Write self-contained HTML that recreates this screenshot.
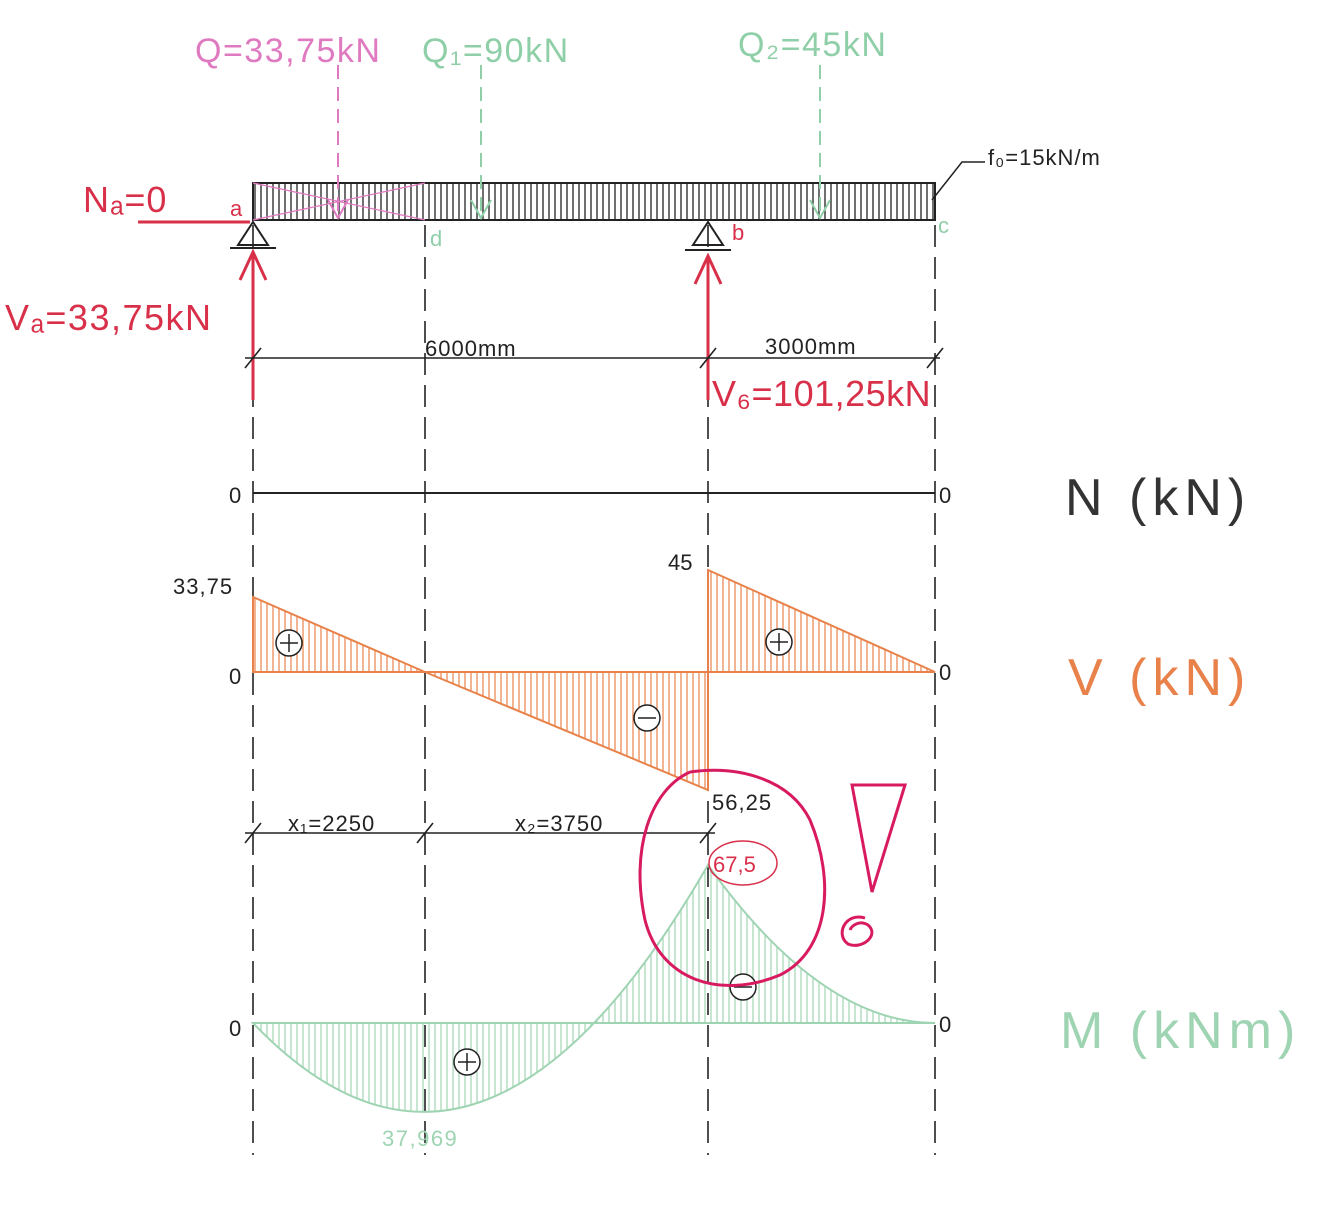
<!DOCTYPE html>
<html><head><meta charset="utf-8"><style>
body{margin:0;background:#fff}
svg{display:block}
text{font-family:"Liberation Sans",sans-serif}
</style></head><body>
<svg width="1341" height="1206" viewBox="0 0 1341 1206" xmlns="http://www.w3.org/2000/svg">
<defs>
<pattern id="hb" width="6" height="10" patternUnits="userSpaceOnUse"><line x1="3" y1="0" x2="3" y2="10" stroke="#222" stroke-width="1.3"/></pattern>
<pattern id="ho" width="6" height="10" patternUnits="userSpaceOnUse"><line x1="3" y1="0" x2="3" y2="10" stroke="#e8824a" stroke-width="1.2"/></pattern>
<pattern id="hg" width="6" height="10" patternUnits="userSpaceOnUse"><line x1="3" y1="0" x2="3" y2="10" stroke="#9fd4b3" stroke-width="1.2"/></pattern>
</defs>
<g stroke="#222" stroke-width="1.6" stroke-dasharray="22,10">
<line x1="253" y1="225" x2="253" y2="1155"/>
<line x1="425" y1="225" x2="425" y2="1155"/>
<line x1="708" y1="225" x2="708" y2="1155"/>
<line x1="935" y1="225" x2="935" y2="1155"/>
</g>
<rect x="253" y="183" width="682" height="37" fill="url(#hb)" stroke="#222" stroke-width="2"/>
<g stroke="#e07ac0" stroke-width="1.3" fill="none"><line x1="253" y1="183" x2="425" y2="220"/><line x1="253" y1="220" x2="425" y2="183"/></g>
<g stroke-width="2" stroke-dasharray="14,8" fill="none">
<line x1="338" y1="65" x2="338" y2="215" stroke="#e07ac0"/>
<line x1="481" y1="65" x2="481" y2="215" stroke="#8fcfa8"/>
<line x1="820" y1="65" x2="820" y2="215" stroke="#8fcfa8"/>
</g>
<g stroke-width="2" fill="none">
<path d="M328,200 L338,218 L348,200" stroke="#e07ac0"/>
<path d="M471,200 L481,218 L491,200" stroke="#8fcfa8"/>
<path d="M810,200 L820,218 L830,200" stroke="#8fcfa8"/>
</g>
<text x="195" y="62" font-size="34" fill="#e07ac0" letter-spacing="1.5">Q=33,75kN</text>
<text x="422" y="62" font-size="34" fill="#8fcfa8" letter-spacing="1.5">Q₁=90kN</text>
<text x="738" y="56" font-size="34" fill="#8fcfa8" letter-spacing="1.5">Q₂=45kN</text>
<path d="M932,200 L962,162 L985,162" stroke="#222" stroke-width="1.5" fill="none"/>
<text x="988" y="165" font-size="22" fill="#222" letter-spacing="1">f₀=15kN/m</text>
<g stroke="#222" stroke-width="2" fill="none">
<path d="M253,222 L238,245 L268,245 Z"/><line x1="230" y1="248" x2="276" y2="248"/>
<path d="M708,222 L693,245 L723,245 Z"/><line x1="685" y1="250" x2="731" y2="250"/>
</g>
<text x="230" y="216" font-size="22" fill="#d9304a">a</text>
<text x="732" y="240" font-size="22" fill="#d9304a">b</text>
<text x="430" y="246" font-size="22" fill="#8fcfa8">d</text>
<text x="938" y="233" font-size="22" fill="#8fcfa8">c</text>
<g stroke="#d9304a" stroke-width="3" fill="none">
<line x1="138" y1="222" x2="250" y2="222"/>
<line x1="253" y1="255" x2="253" y2="400"/><path d="M240,280 L253,252 L266,280"/>
<line x1="708" y1="258" x2="708" y2="400"/><path d="M695,284 L708,256 L721,284"/>
</g>
<text x="83" y="212" font-size="36" fill="#d9304a" letter-spacing="1">Nₐ=0</text>
<text x="5" y="330" font-size="36" fill="#d9304a" letter-spacing="1.5">Vₐ=33,75kN</text>
<text x="712" y="406" font-size="36" fill="#d9304a" letter-spacing="0.5">V₆=101,25kN</text>
<g stroke="#222" stroke-width="1.6"><line x1="245" y1="358" x2="940" y2="358"/>
<line x1="245" y1="368" x2="261" y2="348"/><line x1="700" y1="368" x2="716" y2="348"/><line x1="927" y1="368" x2="943" y2="348"/>
<line x1="245" y1="833" x2="715" y2="833"/>
<line x1="245" y1="843" x2="261" y2="823"/><line x1="417" y1="843" x2="433" y2="823"/><line x1="700" y1="843" x2="716" y2="823"/></g>
<text x="425" y="356" font-size="22" fill="#222" letter-spacing="1">6000mm</text>
<text x="765" y="354" font-size="22" fill="#222" letter-spacing="1">3000mm</text>
<text x="288" y="831" font-size="22" fill="#222" letter-spacing="1">x₁=2250</text>
<text x="515" y="831" font-size="22" fill="#222" letter-spacing="1">x₂=3750</text>
<line x1="253" y1="493" x2="935" y2="493" stroke="#222" stroke-width="2"/>
<text x="229" y="503" font-size="22" fill="#222">0</text>
<text x="939" y="503" font-size="22" fill="#222">0</text>
<text x="1065" y="515" font-size="52" fill="#333" letter-spacing="6">N (kN)</text>
<path d="M253,672 L253,597 L425,672 Z M425,672 L708,790 L708,672 Z M708,672 L708,570 L935,672 Z" fill="url(#ho)" stroke="#e8824a" stroke-width="2"/>
<line x1="253" y1="672" x2="935" y2="672" stroke="#e8824a" stroke-width="2"/>
<text x="173" y="594" font-size="22" fill="#222" letter-spacing="1">33,75</text>
<text x="229" y="684" font-size="22" fill="#222">0</text>
<text x="668" y="570" font-size="22" fill="#222">45</text>
<text x="939" y="680" font-size="22" fill="#222">0</text>
<text x="712" y="810" font-size="22" fill="#222" letter-spacing="1">56,25</text>
<text x="1068" y="695" font-size="52" fill="#e8824a" letter-spacing="6">V (kN)</text>
<path d="M253,1023 Q480,1260 708,865 Q821,1023 935,1023 Z" fill="url(#hg)" stroke="#9fd4b3" stroke-width="2"/>
<line x1="253" y1="1023" x2="935" y2="1023" stroke="#9fd4b3" stroke-width="2"/>
<g stroke="#222" stroke-width="1.5" fill="#fff">
<circle cx="289" cy="643" r="13"/><circle cx="779" cy="642" r="13"/><circle cx="647" cy="718" r="13"/>
<circle cx="743" cy="987" r="13"/><circle cx="467" cy="1062" r="13"/></g>
<g stroke="#222" stroke-width="1.5"><path d="M280,643h18M289,634v18M770,642h18M779,633v18M638,718h18M734,987h18M458,1062h18M467,1053v18"/></g>
<text x="229" y="1036" font-size="22" fill="#222">0</text>
<text x="939" y="1032" font-size="22" fill="#222">0</text>
<text x="382" y="1146" font-size="22" fill="#9fd4b3" letter-spacing="1.5">37,969</text>
<text x="1060" y="1048" font-size="52" fill="#9fd4b3" letter-spacing="6">M (kNm)</text>
<ellipse cx="743" cy="863" rx="34" ry="22" fill="none" stroke="#d9304a" stroke-width="1.5"/>
<text x="713" y="872" font-size="22" fill="#d9304a">67,5</text>
<g stroke="#d81b60" stroke-width="3" fill="none">
<path d="M690,772 C650,790 630,850 645,920 C660,980 720,1000 780,975 C830,950 835,880 810,820 C790,780 740,765 690,772"/>
<path d="M852,785 L905,785 L872,892 Z"/>
<path d="M865,918 C845,912 835,935 848,944 C862,950 880,935 868,925 C860,920 852,925 850,930"/>
</g>
</svg>
</body></html>
